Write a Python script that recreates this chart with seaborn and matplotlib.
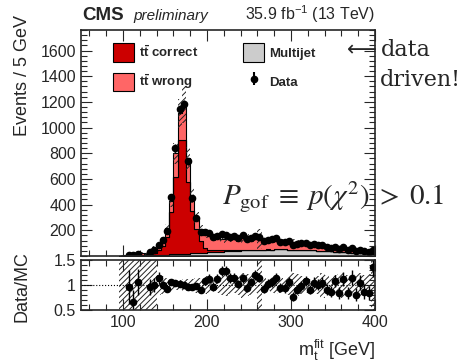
import numpy as np
import pandas as pd
import matplotlib
matplotlib.use("Agg")
import matplotlib.pyplot as plt
import seaborn as sns
from matplotlib.patches import Patch
from matplotlib.ticker import MultipleLocator

# 5 GeV bins, low edges 95 ... 395
bin_low = list(range(95, 400, 5))

tt_correct = [0, 1, 2, 3, 4, 6, 8, 12, 20, 35, 70, 140, 330, 600, 890, 890, 560, 330, 190, 90,
              40, 20, 15, 12, 10, 8, 6, 5, 4, 3, 3, 2, 2, 2, 1, 1, 0, 0, 0, 0,
              0, 0, 0, 0, 0, 0, 0, 0, 0, 0, 0, 0, 0, 0, 0, 0, 0, 0, 0, 0, 0]
tt_wrong = [2, 3, 4, 6, 8, 10, 12, 17, 23, 32, 46, 65, 88, 187, 205, 274, 182, 120, 88, 96,
            104, 112, 105, 96, 91, 86, 88, 90, 92, 93, 90, 87, 83, 80, 78, 74, 72, 69, 67, 64,
            62, 58, 55, 52, 49, 46, 44, 42, 40, 38, 36, 34, 32, 30, 28, 26, 24, 23, 22, 19, 17]
multijet = [1, 2, 2, 3, 3, 4, 5, 6, 7, 8, 9, 10, 12, 13, 15, 16, 18, 20, 22, 24,
            26, 28, 30, 32, 34, 36, 38, 40, 42, 44, 45, 46, 47, 48, 49, 50, 50, 51, 51, 51,
            50, 50, 49, 48, 47, 46, 44, 42, 40, 38, 36, 34, 32, 30, 28, 26, 24, 22, 20, 19, 18]
# data / MC
ratio = [np.nan, np.nan, 0.96, 0.67, 1.06, np.nan, np.nan, 0.96, 1.0, 1.14,
         1.0, 0.92, 1.07, 1.05, 1.03, 1.0, 0.97, 0.96, 0.99, 0.9,
         1.08, 1.13, 0.97, 1.13, 1.28, 1.28, 1.14, 1.14, 1.02, 1.14,
         0.95, 1.06, 1.2, 1.15, 0.93, 1.02, 1.06, 1.14, 0.95, 0.94,
         1.06, 0.77, 0.91, 0.98, 1.08, 0.91, 1.05, 1.01, 1.05, 0.91,
         0.87, 1.08, 0.84, 1.12, 0.84, 1.15, 0.81, 1.05, 0.87, 0.84, 1.36]
# relative MC uncertainty (hatched band)
mc_unc = [0.6, 0.6, 0.6, 0.6, 0.6, 0.6, 0.6, 0.6, 0.6, 0.2,
          0.18, 0.15, 0.12, 0.1, 0.1, 0.12, 0.12, 0.12, 0.15, 0.15,
          0.18, 0.15, 0.12, 0.15, 0.2, 0.22, 0.18, 0.15, 0.2, 0.25,
          0.22, 0.2, 0.15, 0.6, 0.15, 0.12, 0.15, 0.18, 0.15, 0.12,
          0.2, 0.25, 0.22, 0.18, 0.15, 0.12, 0.15, 0.18, 0.25, 0.2,
          0.15, 0.2, 0.22, 0.25, 0.2, 0.18, 0.22, 0.25, 0.2, 0.22, 0.6]

edges = bin_low + [400]
centers = np.array(bin_low) + 2.5
total = np.array(tt_correct) + np.array(tt_wrong) + np.array(multijet)
unc = np.array(mc_unc)
data = total * np.array(ratio)

sns.set_style("ticks")
plt.rcParams["font.family"] = ["Liberation Sans", "DejaVu Sans"]
plt.rcParams["mathtext.fontset"] = "custom"
plt.rcParams["mathtext.rm"] = "Liberation Sans"
plt.rcParams["mathtext.bf"] = "Liberation Sans:bold"
plt.rcParams["mathtext.it"] = "Liberation Sans:italic"
plt.rcParams["hatch.linewidth"] = 0.7

fig = plt.figure(figsize=(4.6, 3.63), dpi=100)
ax = fig.add_axes([0.176, 0.2948, 0.639, 0.6226])
rax = fig.add_axes([0.176, 0.146, 0.639, 0.1377])

df = pd.DataFrame({
    "mass": np.tile(centers, 3),
    "events": np.concatenate([tt_wrong, tt_correct, multijet]).astype(float),
    "process": ["wrong"] * len(centers) + ["correct"] * len(centers) + ["multijet"] * len(centers),
})
colors = {"correct": "#cc0000", "wrong": "#ff6666", "multijet": "#cccccc"}
# seaborn puts the first hue level on top of the stack
sns.histplot(data=df, x="mass", weights="events", hue="process",
             hue_order=["wrong", "correct", "multijet"], multiple="stack",
             bins=edges, element="step", palette=colors, alpha=1,
             edgecolor="black", linewidth=0.8, legend=False, ax=ax)

# MC uncertainty band
ax.fill_between(edges, np.append(total * (1 - unc), 0), np.append(total * (1 + unc), 0),
                step="post", facecolor="none", edgecolor="#222222", hatch="//////", lw=0)
ax.errorbar(centers, data, yerr=np.sqrt(data), fmt="o", color="black", ms=4.5, elinewidth=1, capsize=0)

ax.set_xlim(50, 400)
ax.set_ylim(0, 1760)
ax.set_xlabel("")
ax.set_ylabel("Events / 5 GeV", fontsize=13, ha="right")
ax.yaxis.set_label_coords(-0.17, 1.066)
ax.yaxis.set_minor_locator(MultipleLocator(40))
ax.set_yticks(range(200, 1700, 200))
ax.xaxis.set_major_locator(MultipleLocator(100))
ax.xaxis.set_minor_locator(MultipleLocator(20))
ax.tick_params(labelbottom=False)

# ratio panel
rax.fill_between(edges, np.append(1 - unc, 1), np.append(1 + unc, 1),
                 step="post", facecolor="none", edgecolor="#222222", hatch="//////", lw=0)
rax.axhline(1, color="black", ls=":", lw=0.8)
rax.errorbar(centers, ratio, yerr=np.sqrt(data) / total, fmt="o", color="black",
             ms=4.5, elinewidth=1, capsize=0)
rax.set_xlim(50, 400)
rax.set_ylim(0.5, 1.5)
rax.set_yticks([0.5, 1, 1.5])
rax.set_yticklabels(["0.5", "1", "1.5"])
rax.yaxis.set_minor_locator(MultipleLocator(0.1))
rax.xaxis.set_major_locator(MultipleLocator(100))
rax.xaxis.set_minor_locator(MultipleLocator(20))
rax.set_ylabel("Data/MC", fontsize=13, va="center")
rax.yaxis.set_label_coords(-0.2, 0.46)
rax.set_xlabel(r"m$_{\rm t}^{\rm fit}$ [GeV]", fontsize=13, ha="right")
rax.xaxis.set_label_coords(1.0, -0.55)

for a in (ax, rax):
    a.tick_params(which="both", direction="in", top=True, right=True, labelsize=11.5, width=0.8)
    a.tick_params(which="major", length=8)
    a.tick_params(which="minor", length=4)
    for s in a.spines.values():
        s.set_linewidth(1.2)

handles = [Patch(facecolor=colors["correct"], edgecolor="black", lw=0.8),
           Patch(facecolor=colors["wrong"], edgecolor="black", lw=0.8),
           Patch(facecolor=colors["multijet"], edgecolor="black", lw=0.8),
           ax.errorbar([], [], yerr=[], fmt="o", color="black", ms=4.5)]
labels = [r"t$\mathbf{\bar{t}}$ correct", r"t$\mathbf{\bar{t}}$ wrong", "Multijet", "Data"]
ax.legend(handles, labels, ncol=2, loc="upper left", bbox_to_anchor=(0.085, 0.97),
          frameon=False, prop={"weight": "bold", "size": 9.5}, handlelength=1.6,
          handleheight=1.75, labelspacing=0.8, columnspacing=3.4, borderpad=0, handletextpad=0.4)

fig.text(0.178, 0.945, "CMS", fontsize=13.5, fontweight="bold")
fig.text(0.290, 0.945, "preliminary", fontsize=11, style="italic")
fig.text(0.815, 0.945, r"35.9 fb$^{-1}$ (13 TeV)", fontsize=11.5, ha="right")

fig.text(0.755, 0.862, "\u27f5", fontsize=15, family="DejaVu Sans", va="center")
fig.text(0.828, 0.862, "data", fontsize=16, family="DejaVu Serif", va="center")
fig.text(0.826, 0.78, "driven!", fontsize=16, family="DejaVu Serif", va="center")
fig.text(0.483, 0.457, r"$P_{\rm gof} \;\equiv\; p(\chi^2) \;>\; 0.1$", fontsize=21,
         math_fontfamily="stix", va="center")

fig.savefig("out.png", dpi=100)
